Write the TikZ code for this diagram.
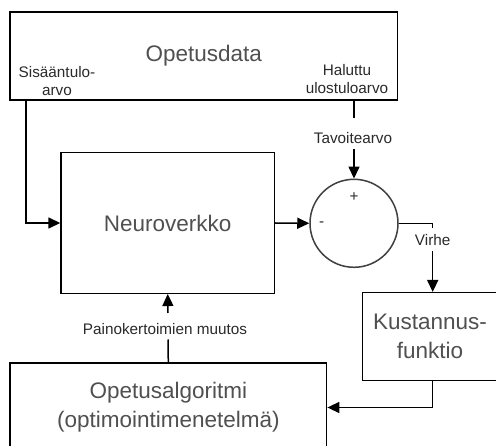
\documentclass[tikz,border=0pt]{standalone}
\usepackage{fontspec}
\setmainfont{Liberation Sans}
\usetikzlibrary{arrows.meta}
\definecolor{bigtext}{HTML}{505050}
\definecolor{smalltext}{HTML}{2A2A2A}
\begin{document}
\begin{tikzpicture}[x=1pt,y=-1pt,
  box/.style={draw=black,line width=1.5pt,inner sep=0pt,text=bigtext,
    font=\fontsize{22.5}{29}\selectfont,align=center},
  lbl/.style={inner sep=0pt,text=smalltext,font=\fontsize{15.3}{18}\selectfont,align=center},
  wire/.style={draw=black,line width=1.5pt},
  arr/.style={wire,-{Triangle[length=12pt,width=11pt]}}]
\useasboundingbox (0,0) rectangle (496,446);
\clip (0,0) rectangle (496,446);
\fill[white] (0,0) rectangle (496,446);

% blocks
\node[box,minimum width=387.7pt,minimum height=88pt] (data) at (203.8,56) {Opetusdata};
\node[box,minimum width=213.3pt,minimum height=140.6pt] (nn) at (167.7,223) {Neuroverkko};
\node[draw=black!75,line width=1.5pt,circle,minimum size=88pt,inner sep=0pt] (sum) at (354,223.3) {};
\node[box,minimum width=134.6pt,minimum height=88pt] (kust) at (430,336.7) {Kustannus-\\funktio};
\node[box,minimum width=316.7pt,minimum height=89pt] (algo) at (168.3,407.5) {Opetusalgoritmi\\(optimointimenetelmä)};

% signs of the summing junction
\node[lbl] (plus) at (354,197.5) {+};
\node[lbl] (minus) at (321.7,224) {-};

% labels
\node[lbl] (inlbl) at (57,81.5) {Sisääntulo-\\arvo};
\node[lbl] (outlbl) at (347,79) {Haluttu\\ulostuloarvo};
\node[lbl] (tav) at (353,138) {Tavoitearvo};
\node[lbl] (virhe) at (432.7,240) {Virhe};
\node[lbl] (paino) at (165,329) {Painokertoimien muutos};

% wire ends beside the labels
\coordinate (tavsrc) at (354,100);
\coordinate (tavtop) at (354,118);
\coordinate (tavbot) at (354,149);
\coordinate (virtop) at (432.7,228);
\coordinate (virbot) at (432.7,251.5);
\coordinate (paitop) at (168,313);
\coordinate (paibot) at (168,339.5);
\coordinate (inpt) at (26,100);

% connectors
\draw[arr] (inpt) |- (nn.west);
\draw[arr] (nn.east) -- (sum.west);
\draw[wire] (tavsrc) -- (tavtop);
\draw[arr] (tavbot) -- (sum.north);
\draw[wire] (sum.east) -| (virtop);
\draw[arr] (virbot) -- (virbot |- kust.north);
\draw[arr] (virbot |- kust.south) |- (algo.east);
\draw[wire] (algo.north) -- (paibot);
\draw[arr] (paitop) -- (nn.south);
\end{tikzpicture}
\end{document}
